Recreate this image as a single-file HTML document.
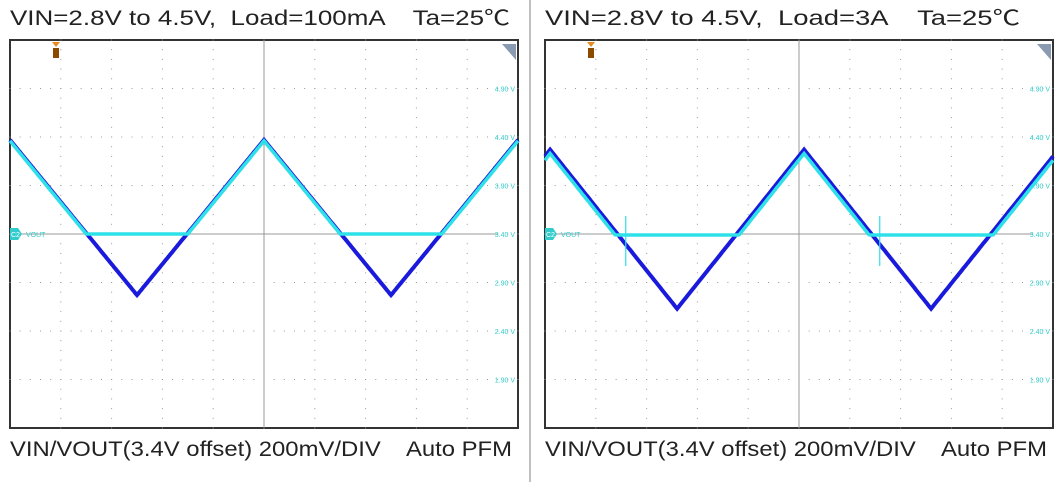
<!DOCTYPE html>
<html><head><meta charset="utf-8"><style>
body{margin:0;background:#fff;font-family:"Liberation Sans","Noto Sans CJK SC",sans-serif}
svg{display:block}
svg text{white-space:pre}
</style></head><body>
<svg id="s" width="1057" height="482" xml:space="preserve">
<text x="10" y="25" font-size="21" fill="#222" textLength="500" lengthAdjust="spacingAndGlyphs">VIN=2.8V to 4.5V,  Load=100mA    Ta=25℃</text>
<text x="545" y="25" font-size="21" fill="#222" textLength="475" lengthAdjust="spacingAndGlyphs">VIN=2.8V to 4.5V,  Load=3A    Ta=25℃</text>
<text x="10" y="456" font-size="21" fill="#222" textLength="502" lengthAdjust="spacingAndGlyphs">VIN/VOUT(3.4V offset) 200mV/DIV    Auto PFM</text>
<text x="545" y="456" font-size="21" fill="#222" textLength="502" lengthAdjust="spacingAndGlyphs">VIN/VOUT(3.4V offset) 200mV/DIV    Auto PFM</text>
<line x1="530" y1="0" x2="530" y2="482" stroke="#aaa" stroke-width="1.5"/>
</svg>
<script>
// Left panel (Load=100mA): time in divisions, VIN in volts
const leftT=[0,2.5,5,7.5,10];
const leftVin=[4.37,2.77,4.37,2.77,4.37];
// Right panel (Load=3A)
const rightT=[0,0.1,2.6,5.1,7.6,10];
const rightVin=[4.2,4.27,2.63,4.27,2.63,4.2];
const voutClamp=[3.4,3.39];
const spikeT=[1.55,6.55];
const vLabels=["4.90 V","4.40 V","3.90 V","3.40 V","2.90 V","2.40 V","1.90 V"];
const vVals=[4.9,4.4,3.9,3.4,2.9,2.4,1.9];

const NS="http://www.w3.org/2000/svg", svg=document.getElementById('s');
function mk(t,a,p){const e=document.createElementNS(NS,t);for(const k in a)e.setAttribute(k,a[k]);(p||svg).appendChild(e);return e;}
function interp(ts,vs,t){for(let i=0;i<ts.length-1;i++){if(t>=ts[i]&&t<=ts[i+1])return vs[i]+(vs[i+1]-vs[i])*(t-ts[i])/(ts[i+1]-ts[i]);}return vs[vs.length-1];}

function panel(x0,name,ts,vin,clamp,off,spikes){
  const W=508,y0=40,H=388;
  const g=mk('g',{});  
  const X=t=>x0+t*W/10, Y=v=>234-(v-3.4)/0.5*48.5;
  mk('rect',{x:x0,y:y0,width:W,height:H,fill:'#fff',stroke:'#333','stroke-width':2},g);
  for(let i=1;i<10;i++)for(let j=0;j<=40;j++)mk('rect',{x:X(i)-0.5,y:y0+j*H/40-0.5,width:1,height:1,fill:'#999'},g);
  for(let j=1;j<8;j++)for(let i=0;i<=50;i++)mk('rect',{x:x0+i*W/50-0.5,y:y0+j*H/8-0.5,width:1,height:1,fill:'#999'},g);
  mk('line',{x1:X(5),y1:y0,x2:X(5),y2:y0+H,stroke:'#999','stroke-width':1},g);
  mk('line',{x1:x0,y1:234,x2:x0+W-20,y2:234,stroke:'#999','stroke-width':1},g);
  vLabels.forEach((l,i)=>{const t=mk('text',{x:x0+W-3,y:Y(vVals[i])+3,'font-size':7,fill:'#3cc','text-anchor':'end'},g);t.textContent=l;
    });
  let pin='',pout='';
  for(let k=0;k<=400;k++){const t=k/40,v=interp(ts,vin,t);pin+=(k?'L':'M')+X(t).toFixed(1)+' '+Y(v).toFixed(1);
    const vo=Math.max(v-off,clamp);pout+=(k?'L':'M')+X(t).toFixed(1)+' '+Y(vo).toFixed(1);}
  const a=mk('path',{d:pin,fill:'none',stroke:'#1a1adc','stroke-width':4},g);
  
  const b=mk('path',{d:pout,fill:'none',stroke:'#2ee0e8','stroke-width':3.5},g);
  
  spikes.forEach(t=>mk('line',{x1:X(t)+2,y1:216,x2:X(t)+2,y2:266,stroke:'#2ee0e8','stroke-width':1.2},g));
  mk('path',{d:`M${x0} 228 h8 l4 6 l-4 6 h-8z`,fill:'#3cc'},g);
  const c=mk('text',{x:x0+1,y:237,'font-size':7,fill:'#fff'},g);c.textContent='C2';
  const vt=mk('text',{x:x0+16,y:237,'font-size':7,fill:'#3cc'},g);vt.textContent='VOUT';
  mk('path',{d:`M${x0+W-16} 44 h14 v16z`,fill:'#8a9ab0'},g);
  mk('rect',{x:x0+43,y:48,width:6,height:10,fill:'#8a4b00'},g);
  mk('path',{d:`M${x0+42} 42 h8 l-4 5z`,fill:'#e88a20'},g);
}
panel(10,'left',leftT,leftVin,voutClamp[0],0.01,[]);
panel(545,'right',rightT,rightVin,voutClamp[1],0.04,spikeT);
</script>
</body></html>
